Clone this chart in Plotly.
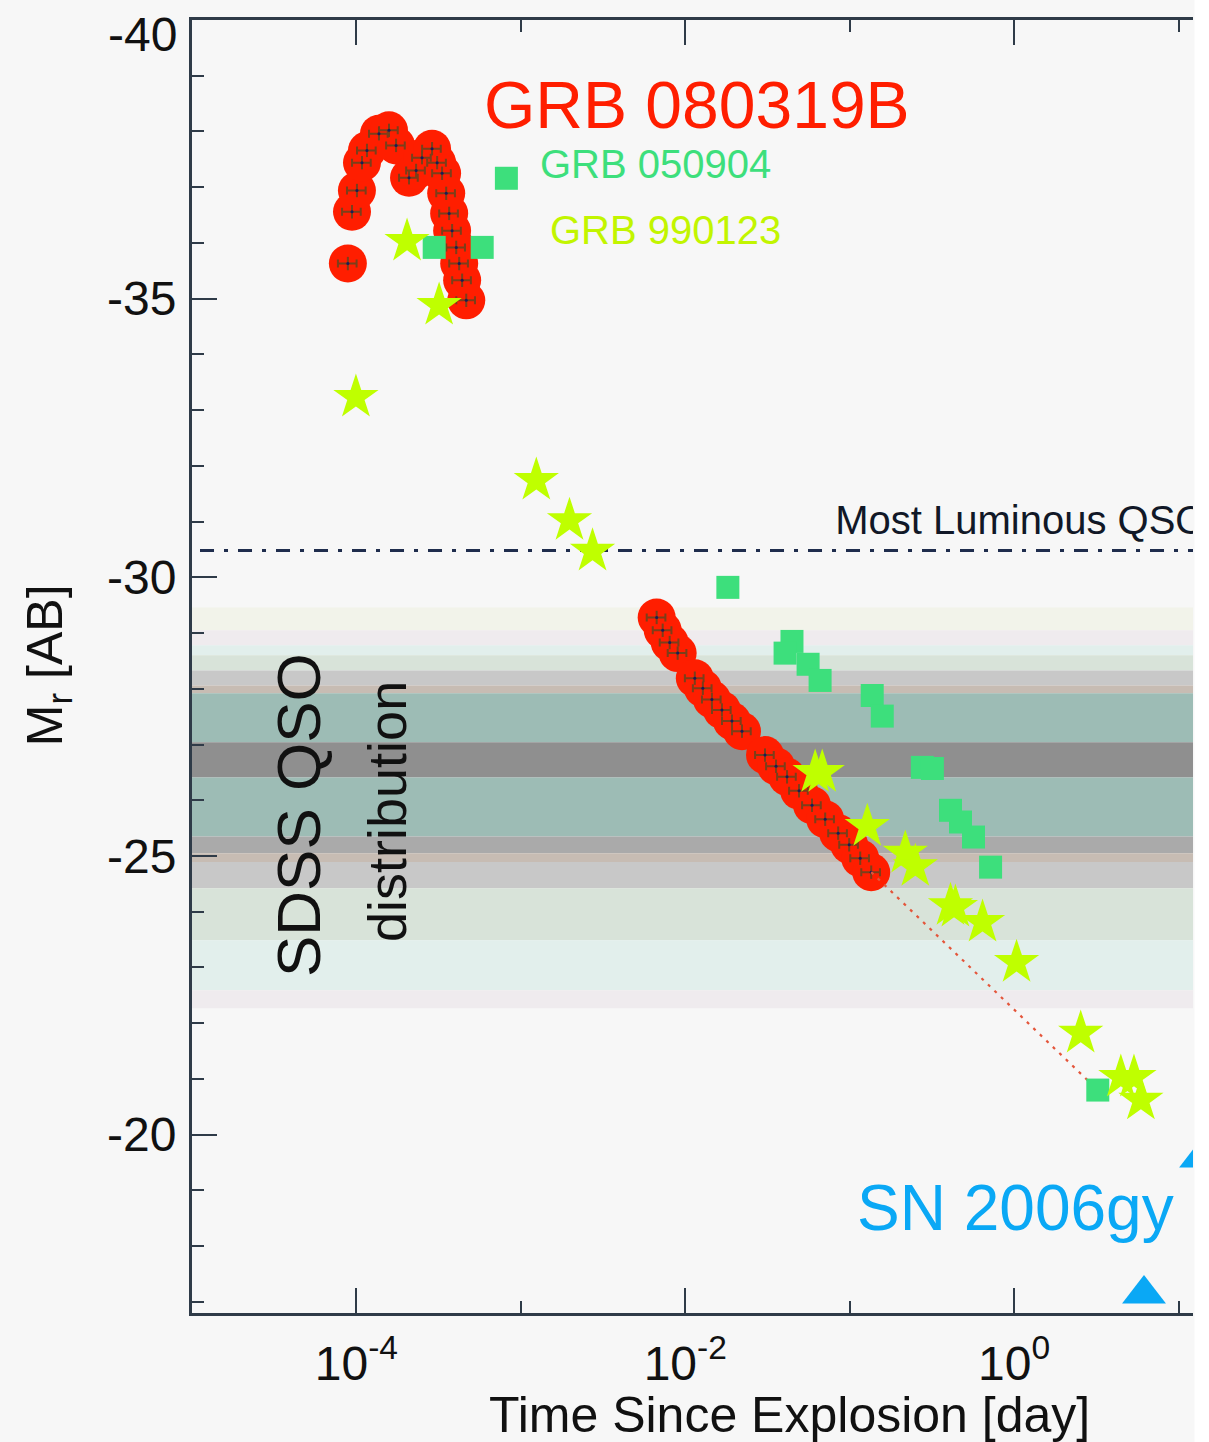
import math
import plotly.graph_objects as go

# ---------------- data ----------------
# GRB 080319B  (time since explosion [day], M_r [AB])
grb080319b_t = [8.87e-5, 9.40e-5, 1.007e-4, 1.081e-4, 1.159e-4, 1.371e-4, 1.578e-4,
                1.742e-4, 2.089e-4, 2.307e-4, 2.506e-4, 2.884e-4, 3.097e-4, 3.319e-4,
                3.516e-4, 3.664e-4, 3.819e-4, 4.046e-4, 4.217e-4, 4.395e-4, 4.656e-4,
                6.70e-3, 7.29e-3, 8.04e-3, 8.99e-3, 1.143e-2, 1.279e-2, 1.452e-2,
                1.671e-2, 1.923e-2, 2.213e-2, 3.055e-2, 3.565e-2, 4.159e-2, 4.920e-2,
                5.902e-2, 7.096e-2, 8.511e-2, 9.93e-2, 0.1159, 0.1352]
grb080319b_m = [-35.63, -36.56, -36.94, -37.44, -37.66, -37.96, -38.02,
                -37.75, -37.17, -37.30, -37.53, -37.69, -37.44, -37.25,
                -36.89, -36.53, -36.22, -35.92, -35.63, -35.33, -34.97,
                -29.28, -29.05, -28.83, -28.64, -28.19, -28.01, -27.81,
                -27.62, -27.42, -27.24, -26.81, -26.61, -26.42, -26.17,
                -25.91, -25.66, -25.41, -25.20, -24.96, -24.71]
# power-law extrapolation of GRB 080319B (dotted)
grb080319b_ext_t = [0.1352, 3.228]
grb080319b_ext_m = [-24.71, -20.80]

# GRB 050904
grb050904_t = [2.972e-4, 5.821e-4, 8.166e-4, 1.816e-2, 4.457e-2, 4.046e-2, 5.585e-2,
               6.607e-2, 0.1371, 0.1578, 0.2767, 0.3184, 0.4102, 0.4721, 0.5662,
               0.7194, 3.228]
grb050904_m = [-35.92, -35.92, -37.16, -29.82, -28.85, -28.64, -28.44,
               -28.15, -27.88, -27.51, -26.59, -26.57, -25.82, -25.61, -25.34,
               -24.80, -20.80]

# GRB 990123
grb990123_t = [9.93e-5, 2.032e-4, 3.184e-4, 1.242e-3, 1.977e-3, 2.729e-3, 6.166e-2,
               6.808e-2, 0.1279, 0.2178, 0.2506, 0.4102, 0.4395, 0.6427, 1.035,
               2.541, 4.457, 5.358, 5.902]
grb990123_m = [-33.23, -36.03, -34.88, -31.74, -31.02, -30.47, -26.50,
               -26.50, -25.53, -25.05, -24.81, -24.11, -24.08, -23.81, -23.09,
               -21.82, -21.03, -21.03, -20.62]

# SN 2006gy
sn2006gy_t = [6.166, 13.71]
sn2006gy_m = [-17.14, -19.58]

# SDSS QSO distribution: band edges (M_r) from bright to faint
qso_band_edges = [-29.46, -29.05, -28.78, -28.60, -28.33, -28.06, -27.92, -27.04,
                  -26.41, -25.35, -25.05, -24.89, -24.42, -23.49, -22.59, -22.27]
qso_band_colors = ["#f2f3ea", "#efebee", "#e2efec", "#d8e3d9", "#c8c8c8", "#c7bcb3",
                   "#9dbcb5", "#8f8f8f", "#9dbcb5", "#aaaaaa", "#c7bcb3", "#c8c8c8",
                   "#d8e3d9", "#e2efec", "#efebee"]
# most luminous QSO
qso_max_m = -30.48

# axes
x_range_log = [-5.0, 1.088]
y_range = [-16.8, -40.0]
x_tickvals = [1e-4, 1e-2, 1e0]
x_ticktext = ["10<sup>-4</sup>", "10<sup>-2</sup>", "10<sup>0</sup>"]
x_minor_vals = [1e-5, 1e-3, 1e-1, 1e1]
y_tickvals = [-40, -35, -30, -25, -20]
y_ticktext = ["", "-35", "-30", "-25", "-20"]
y_top_label = "-40"

FONT = "Liberation Sans, Arial, Helvetica, sans-serif"
AXC = "#2f3b48"
BG = "#f7f7f7"

fig = go.Figure()

# red circles
fig.add_trace(go.Scatter(
    x=grb080319b_t, y=grb080319b_m, mode="markers",
    marker=dict(symbol="circle", size=38, color="#ff1e00", line=dict(width=0)),
    showlegend=False, hoverinfo="skip"))
# error crosses + dots
fig.add_trace(go.Scatter(
    x=grb080319b_t, y=grb080319b_m, mode="markers",
    marker=dict(symbol="circle", size=3, color="#1a1a5a"),
    error_x=dict(type="percent", value=13, color="#7b3f1a", thickness=2, width=4),
    error_y=dict(type="constant", value=0.12, color="#7b3f1a", thickness=2, width=0),
    showlegend=False, hoverinfo="skip"))
# dotted extrapolation
fig.add_trace(go.Scatter(
    x=grb080319b_ext_t, y=grb080319b_ext_m, mode="lines",
    line=dict(color="#e4553a", width=2.2, dash="3px,6px"),
    showlegend=False, hoverinfo="skip"))
# green squares
fig.add_trace(go.Scatter(
    x=grb050904_t, y=grb050904_m, mode="markers",
    marker=dict(symbol="square", size=23, color="#3ddf7c", line=dict(width=0)),
    showlegend=False, hoverinfo="skip"))
# stars
fig.add_trace(go.Scatter(
    x=grb990123_t, y=grb990123_m, mode="markers",
    marker=dict(symbol="star", size=34, color="#bfff00", line=dict(width=0)),
    showlegend=False, hoverinfo="skip"))
# SN triangles
fig.add_trace(go.Scatter(
    x=sn2006gy_t, y=sn2006gy_m, mode="markers",
    marker=dict(symbol="triangle-up", size=38, color="#0aa8f5", line=dict(width=0)),
    cliponaxis=True, showlegend=False, hoverinfo="skip"))
# Most luminous QSO label (clipped by the plot edge)
fig.add_trace(go.Scatter(
    x=[10 ** -1.088], y=[-30.95], mode="text", text=["Most Luminous QSO"],
    textposition="middle right", cliponaxis=True,
    textfont=dict(family=FONT, size=40, color="#111827"),
    showlegend=False, hoverinfo="skip"))

shapes = []
for i, c in enumerate(qso_band_colors):
    shapes.append(dict(type="rect", xref="paper", yref="y", x0=0, x1=1,
                       y0=qso_band_edges[i], y1=qso_band_edges[i + 1],
                       fillcolor=c, line=dict(width=0), layer="below"))
shapes.append(dict(type="line", xref="paper", yref="y", x0=0.008, x1=1,
                   y0=qso_max_m, y1=qso_max_m, layer="below",
                   line=dict(color="#1f2d4d", width=3, dash="14px,10px,4px,10px")))
# white strip beyond the cropped right edge
shapes.append(dict(type="rect", xref="paper", yref="paper", x0=1.0015, x1=1.1,
                   y0=-0.2, y1=1.1, fillcolor="#ffffff", line=dict(width=0), layer="above"))

annotations = [
    dict(x=-1.930, y=-38.47, xref="x", yref="y", text="GRB 080319B", showarrow=False,
         font=dict(family=FONT, size=66, color="#ff1e00")),
    dict(x=-2.180, y=-37.41, xref="x", yref="y", text="GRB 050904", showarrow=False,
         font=dict(family=FONT, size=40, color="#3ddf7c")),
    dict(x=-2.119, y=-36.24, xref="x", yref="y", text="GRB 990123", showarrow=False,
         font=dict(family=FONT, size=40, color="#c2f500")),
    dict(x=0.009, y=-18.68, xref="x", yref="y", text="SN 2006gy", showarrow=False,
         font=dict(family=FONT, size=64, color="#0aa8f5")),
    dict(x=-4.351, y=-25.73, xref="x", yref="y", text="SDSS QSO", showarrow=False,
         textangle=-90, font=dict(family=FONT, size=62, color="#111111")),
    dict(x=-3.814, y=-25.79, xref="x", yref="y", text="distribution", showarrow=False,
         textangle=-90, font=dict(family=FONT, size=54, color="#111111")),
    # top y tick label (drawn slightly below the frame corner, as in the reference)
    dict(x=-0.013, y=0.9884, xref="paper", yref="paper", text=y_top_label,
         showarrow=False, xanchor="right", yanchor="middle",
         font=dict(family=FONT, size=48, color="#111111")),
    # axis titles
    dict(x=-0.1439, y=0.501, xref="paper", yref="paper", text="M<sub>r</sub> [AB]",
         showarrow=False, textangle=-90, xanchor="center", yanchor="middle",
         font=dict(family=FONT, size=50, color="#111111")),
    dict(x=0.597, y=-0.079, xref="paper", yref="paper", text="Time Since Explosion [day]",
         showarrow=False, xanchor="center", yanchor="middle",
         font=dict(family=FONT, size=50, color="#111111")),
]

fig.update_layout(
    width=1209, height=1442, autosize=False,
    margin=dict(l=192, r=16, t=20, b=129, pad=0),
    paper_bgcolor=BG, plot_bgcolor=BG,
    shapes=shapes, annotations=annotations,
    font=dict(family=FONT, color="#111111"),
)
fig.update_xaxes(
    type="log", range=x_range_log, showgrid=False, zeroline=False,
    showline=True, linecolor=AXC, linewidth=3, mirror="ticks",
    tickmode="array", tickvals=x_tickvals, ticktext=x_ticktext,
    ticks="inside", ticklen=25, tickwidth=2, tickcolor=AXC,
    tickfont=dict(family=FONT, size=48, color="#111111"),
    ticklabelstandoff=6,
    minor=dict(tickmode="array", tickvals=x_minor_vals, ticks="inside",
               ticklen=12, tickwidth=2, tickcolor=AXC),
)
fig.update_yaxes(
    range=y_range, showgrid=False, zeroline=False,
    showline=True, linecolor=AXC, linewidth=3, mirror=False,
    tickmode="array", tickvals=y_tickvals, ticktext=y_ticktext,
    ticks="inside", ticklen=25, tickwidth=2, tickcolor=AXC,
    tickfont=dict(family=FONT, size=48, color="#111111"),
    ticklabelstandoff=3,
    minor=dict(dtick=1, ticks="inside", ticklen=12, tickwidth=2, tickcolor=AXC),
)

fig.write_html("out.html", config={"displayModeBar": False},
               post_script="document.body.style.margin='0';document.body.style.padding='0';")
